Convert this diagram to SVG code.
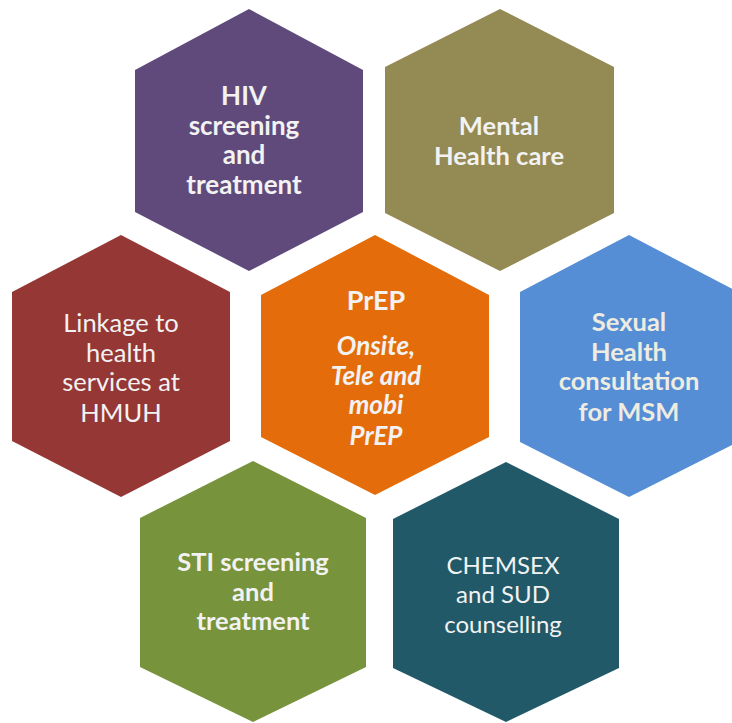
<svg xmlns="http://www.w3.org/2000/svg" width="732" height="723" viewBox="0 0 732 723">
<style>
.t{font-family:Lato,"Open Sans","Liberation Sans",sans-serif;font-size:25.5px;fill:#F2F2F2;text-anchor:middle}
.b{font-weight:bold}
.i{font-style:italic;font-weight:bold;font-size:26px}
</style>
<rect width="732" height="723" fill="#FFFFFF"/>
<g id="hiv">
<polygon points="249,9 363,70 363,212 249,271 135,212 135,70" fill="#604A7B"/>
<text class="t b" style="font-size:26px"><tspan x="244" y="105">HIV</tspan><tspan x="244" y="135">screening</tspan><tspan x="244" y="164">and</tspan><tspan x="244" y="194">treatment</tspan></text>
</g>
<g id="mental">
<polygon points="500,9 614,67 614,213 500,271 385,213 385,67" fill="#948A54"/>
<text class="t b"><tspan x="499" y="135">Mental</tspan><tspan x="499" y="165">Health care</tspan></text>
</g>
<g id="linkage">
<polygon points="121,235 230,292 230,441 121,497 12,441 12,292" fill="#953735"/>
<text class="t" style="font-size:25.5px"><tspan x="121" y="332">Linkage to</tspan><tspan x="121" y="362">health</tspan><tspan x="121" y="391">services at</tspan><tspan x="121" y="422">HMUH</tspan></text>
</g>
<g id="prep">
<polygon points="375,235 489,295 489,437 375,495 261,437 261,295" fill="#E46C0A"/>
<text class="t b" style="font-size:27px"><tspan x="376" y="310">PrEP</tspan></text>
<text class="t i"><tspan x="376" y="355">Onsite,</tspan><tspan x="376" y="385">Tele and</tspan><tspan x="376" y="414">mobi</tspan><tspan x="376" y="445">PrEP</tspan></text>
</g>
<g id="sexual">
<polygon points="629,235 738,292 738,442 629,497 520,442 520,292" fill="#558ED5"/>
<text class="t b" style="fill:#EEECE1"><tspan x="629" y="331">Sexual</tspan><tspan x="629" y="361">Health</tspan><tspan x="629" y="390">consultation</tspan><tspan x="629" y="421">for MSM</tspan></text>
</g>
<g id="sti">
<polygon points="253,461 366,518 366,667 253,722 140,667 140,518" fill="#77933C"/>
<text class="t b"><tspan x="253" y="571">STI screening</tspan><tspan x="253" y="601">and</tspan><tspan x="253" y="630">treatment</tspan></text>
</g>
<g id="chemsex">
<polygon points="506,462 619,519 619,668 506,722 393,668 393,519" fill="#215968"/>
<text class="t" style="font-size:24px"><tspan x="503" y="574">CHEMSEX</tspan><tspan x="503" y="603">and SUD</tspan><tspan x="503" y="633">counselling</tspan></text>
</g>
<g id="connectors"/>
</svg>
